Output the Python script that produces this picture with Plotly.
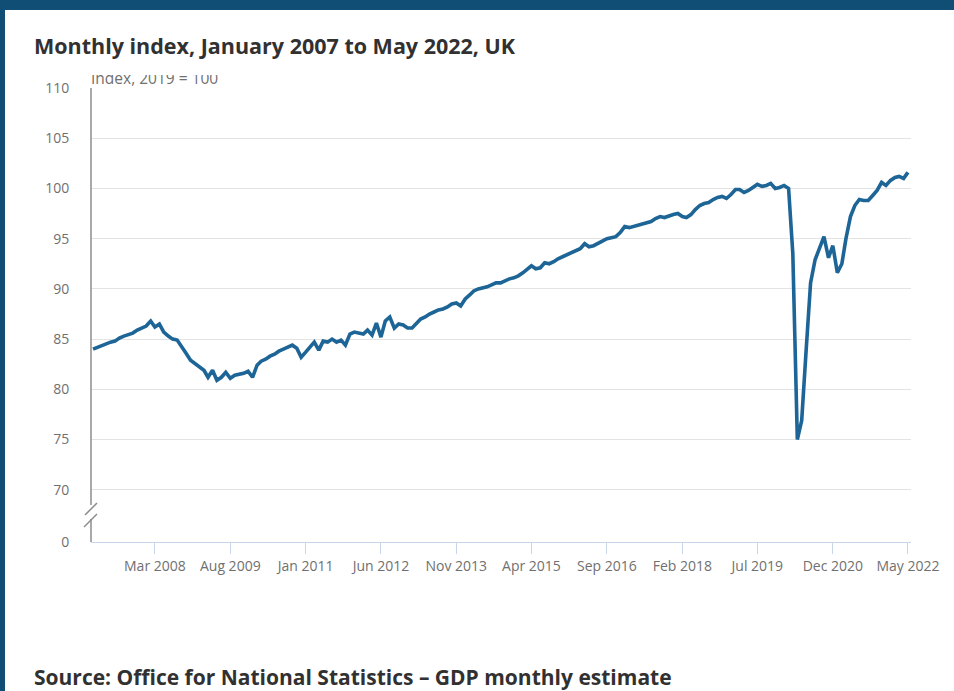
import pandas as pd
import plotly.graph_objects as go

# Monthly GDP index (2019 = 100), January 2007 to May 2022
start_month = "2007-01-01"
gdp_index = [
    # 2007
    84.0, 84.2, 84.4, 84.6, 84.7, 84.8, 85.1, 85.3, 85.5, 85.6, 85.9, 86.1,
    # 2008
    86.3, 86.8, 86.2, 86.5, 85.7, 85.3, 85.0, 84.9, 84.3, 83.6, 82.9, 82.6,
    # 2009
    82.3, 81.9, 81.2, 81.9, 80.9, 81.2, 81.7, 81.1, 81.4, 81.5, 81.6, 81.8,
    # 2010
    81.2, 82.4, 82.8, 83.0, 83.3, 83.5, 83.8, 84.0, 84.2, 84.4, 84.1, 83.2,
    # 2011
    83.7, 84.2, 84.7, 83.9, 84.8, 84.7, 85.0, 84.7, 84.9, 84.4, 85.5, 85.7,
    # 2012
    85.6, 85.5, 85.9, 85.4, 86.6, 85.2, 86.8, 87.2, 86.1, 86.5, 86.4, 86.1,
    # 2013
    86.1, 86.6, 87.0, 87.2, 87.5, 87.7, 87.9, 88.0, 88.2, 88.5, 88.6, 88.3,
    # 2014
    89.0, 89.4, 89.8, 90.0, 90.1, 90.2, 90.4, 90.6, 90.6, 90.8, 91.0, 91.1,
    # 2015
    91.3, 91.6, 91.9, 92.3, 92.0, 92.1, 92.6, 92.5, 92.7, 93.0, 93.2, 93.4,
    # 2016
    93.6, 93.9, 94.0, 94.5, 94.2, 94.3, 94.5, 94.8, 95.0, 95.1, 95.2, 95.6,
    # 2017
    96.2, 96.1, 96.2, 96.4, 96.5, 96.6, 96.7, 97.0, 97.2, 97.1, 97.3, 97.4,
    # 2018
    97.5, 97.2, 97.1, 97.4, 97.9, 98.3, 98.5, 98.6, 98.9, 99.1, 99.2, 99.0,
    # 2019
    99.4, 99.9, 99.9, 99.6, 99.8, 100.1, 100.4, 100.2, 100.3, 100.5, 100.0, 100.1,
    # 2020
    100.3, 100.0, 93.5, 75.0, 76.9, 84.0, 90.6, 92.9, 94.2, 95.2, 93.1, 94.3,
    # 2021
    91.6, 92.5, 95.0, 97.2, 98.3, 98.9, 98.8, 98.8, 99.3, 99.8, 100.6, 100.3,
    # 2022
    100.8, 101.1, 101.2, 101.0, 101.6,
]

x_tick_labels = ["Mar 2008", "Aug 2009", "Jan 2011", "Jun 2012", "Nov 2013",
                 "Apr 2015", "Sep 2016", "Feb 2018", "Jul 2019", "Dec 2020",
                 "May 2022"]
y_tick_values = [70, 75, 80, 85, 90, 95, 100, 105, 110]
axis_floor = 64.8          # broken-axis baseline, labelled as zero
floor_label = "0"

title_text = "Monthly index, January 2007 to May 2022, UK"
unit_text = "Index, 2019 = 100"
source_text = "Source: Office for National Statistics \u2013 GDP monthly estimate"

months = pd.date_range(start_month, periods=len(gdp_index), freq="MS")
tick_dates = [pd.to_datetime(t, format="%b %Y") for t in x_tick_labels]

# ---- page geometry (pixels) ----
W, H = 954, 691
ML, MR, MT, MB = 91, 43, 70, 149
PW, PH = W - ML - MR, H - MT - MB


def px(xp):
    return (xp - ML) / PW


def py(yp):
    return (H - MB - yp) / PH


NAVY = "#114e75"
LINE = "#1d6596"
GRID = "#e3e3e3"
TICK_TXT = "#707070"
XAXIS_CLR = "#c9d6e8"
YAXIS_CLR = "#8c8c8c"
HEAD_TXT = "#323132"
FONT = "Open Sans"

fig = go.Figure()

fig.add_trace(go.Scatter(
    x=months, y=gdp_index, mode="lines",
    line=dict(color=LINE, width=3.6),
    hoverinfo="skip", showlegend=False,
))

# unit label sits in its own thin subplot so its top edge is trimmed
fig.add_trace(go.Scatter(
    x=[0], y=[0.6], mode="text", text=[unit_text],
    textposition="middle right",
    textfont=dict(family=FONT, size=15.5, color=TICK_TXT),
    cliponaxis=True, xaxis="x2", yaxis="y2",
    hoverinfo="skip", showlegend=False,
))

fig.update_layout(
    width=W, height=H,
    margin=dict(l=ML, r=MR, t=MT, b=MB, pad=0),
    paper_bgcolor="white", plot_bgcolor="white",
    font=dict(family=FONT, color=TICK_TXT),
    xaxis=dict(
        type="date",
        range=["2006-12-18", "2022-05-22"],
        tickvals=tick_dates, ticktext=x_tick_labels,
        tickfont=dict(family=FONT, size=14, color=TICK_TXT),
        showgrid=False, zeroline=False,
        showline=True, linecolor=XAXIS_CLR, linewidth=1,
        ticks="outside", ticklen=11, tickcolor=XAXIS_CLR, tickwidth=1,
    ),
    yaxis=dict(
        domain=[0, py(88)],
        range=[axis_floor, 110],
        tickvals=[axis_floor] + y_tick_values,
        ticktext=[floor_label] + [str(v) for v in y_tick_values],
        tickfont=dict(family=FONT, size=14, color=TICK_TXT),
        showgrid=True, gridcolor=GRID, gridwidth=1,
        zeroline=False, showline=False,
        ticks="outside", ticklen=18, tickcolor="rgba(0,0,0,0)",
    ),
    xaxis2=dict(domain=[0, 0.3], range=[0, 1], visible=False,
                anchor="y2", fixedrange=True),
    yaxis2=dict(domain=[py(88), py(75)], range=[0, 1], visible=False,
                anchor="x2", fixedrange=True),
)

shapes = [
    # navy page frame
    dict(type="rect", xref="paper", yref="paper",
         x0=px(0), x1=px(W), y0=py(10), y1=py(0),
         fillcolor=NAVY, line=dict(width=0), layer="below"),
    dict(type="rect", xref="paper", yref="paper",
         x0=px(0), x1=px(5), y0=py(H), y1=py(0),
         fillcolor=NAVY, line=dict(width=0), layer="below"),
    # vertical axis with a break above the zero baseline
    dict(type="line", xref="paper", yref="paper",
         x0=px(91), x1=px(91), y0=py(88), y1=py(505),
         line=dict(color=YAXIS_CLR, width=1.5)),
    dict(type="line", xref="paper", yref="paper",
         x0=px(91), x1=px(91), y0=py(519), y1=py(542),
         line=dict(color=YAXIS_CLR, width=1.5)),
    dict(type="line", xref="paper", yref="paper",
         x0=px(85), x1=px(97), y0=py(515), y1=py(503),
         line=dict(color=YAXIS_CLR, width=1.5)),
    dict(type="line", xref="paper", yref="paper",
         x0=px(84), x1=px(97), y0=py(527), y1=py(514),
         line=dict(color=YAXIS_CLR, width=1.5)),
]
fig.update_layout(shapes=shapes)

fig.add_annotation(
    text="<b>" + title_text + "</b>", xref="paper", yref="paper",
    x=px(32), y=py(46), xanchor="left", yanchor="middle",
    showarrow=False, font=dict(family=FONT, size=21.5, color=HEAD_TXT),
)
fig.add_annotation(
    text="<b>" + source_text + "</b>", xref="paper", yref="paper",
    x=px(32), y=py(677), xanchor="left", yanchor="middle",
    showarrow=False, font=dict(family=FONT, size=21, color=HEAD_TXT),
)

fig.write_html("out.html")
